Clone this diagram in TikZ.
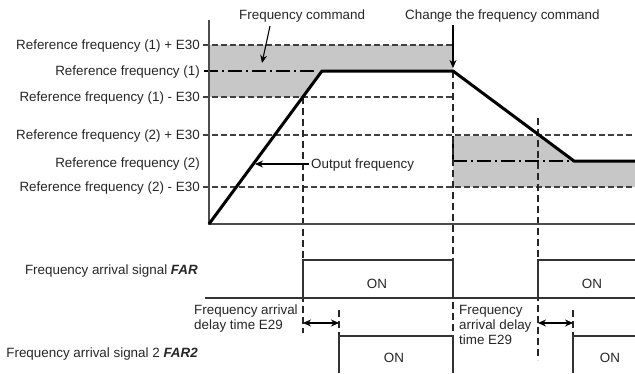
\documentclass[tikz,border=0pt]{standalone}
\usepackage{fontspec}
\setmainfont{Liberation Sans}
\usetikzlibrary{arrows.meta}
\begin{document}
\begin{tikzpicture}[x=1pt,y=-1pt, font=\fontsize{13.4}{15}\selectfont,
 lbl/.style={anchor=base east, inner sep=0pt, text=black!85},
 txt/.style={inner sep=0pt, text=black!85},
 dsh/.style={draw=black!75, line width=1.2pt, dash pattern=on 6pt off 3pt},
 vdsh/.style={draw=black!85, line width=1.2pt, dash pattern=on 7pt off 4pt},
 cmd/.style={draw=black, line width=1.9pt, dash pattern=on 14pt off 4pt on 2pt off 4pt},
 outf/.style={draw=black, line width=3pt, line join=miter},
 sig/.style={draw=black!80, line width=1.2pt},
 axisl/.style={draw=black!70, line width=1.4pt},
 band/.style={fill=black!22},
 ptr/.style={-{Stealth[length=8pt,width=7pt]}, draw=black, line width=1.1pt},
 dptr/.style={{Stealth[length=8pt,width=7pt]}-{Stealth[length=8pt,width=7pt]}, draw=black, line width=1.1pt}]
\useasboundingbox (0,0) rectangle (635,373);
% key points
\coordinate (O) at (209,224);
\coordinate (Ytop) at (209,20);
\coordinate (Xend) at (635,224);
\coordinate (R1) at (322,71);
\coordinate (C) at (453,71);
\coordinate (R2) at (574,161);
\coordinate (E) at (635,161);
% gray bands
\fill[band] (209,45) -- (453,45) -- (C) -- (R1) -- (302.8,97) -- (209,97) -- cycle;
\fill[band] (453,136) -- (539.5,136) -- (R2) -- (E) -- (635,187) -- (453,187) -- cycle;
% dashed levels
\coordinate (a1) at (203,45); \coordinate (b1) at (453,45);
\coordinate (a2) at (203,97); \coordinate (b2) at (453,97);
\coordinate (a3) at (203,135); \coordinate (b3) at (635,135);
\coordinate (a4) at (203,187); \coordinate (b4) at (635,187);
\draw[dsh] (a1) -- (b1);
\draw[dsh] (a2) -- (b2);
\draw[dsh] (a3) -- (b3);
\draw[dsh] (a4) -- (b4);
% command (dash-dot)
\coordinate (c1) at (204,71); \coordinate (c2) at (316,71);
\coordinate (c3) at (453,136); \coordinate (c4) at (453,161);
\draw[cmd] (c1) -- (c2);
\draw[draw=black, line width=1.9pt] (c3) -- (c4);
\draw[cmd] (c4) -- (R2);
% vertical dashed lines
\coordinate (v1t) at (303,97); \coordinate (v1b) at (303,333);
\coordinate (v2t) at (453,71); \coordinate (v2b) at (453,336);
\coordinate (v3t) at (538,118); \coordinate (v3b) at (538,360);
\coordinate (v4t) at (339,310); \coordinate (v4b) at (339,336);
\coordinate (v5t) at (573,310); \coordinate (v5b) at (573,336);
\draw[vdsh] (v1t) -- (v1b);
\draw[vdsh] (v2t) -- (v2b);
\draw[vdsh] (v3t) -- (v3b);
\draw[vdsh] (v4t) -- (v4b);
\draw[vdsh] (v5t) -- (v5b);
% axes
\draw[axisl] (Ytop) -- (O) -- (Xend);
% output frequency
\draw[outf] (O) -- (R1) -- (C) -- (R2) -- (E);
% top labels and pointers
\node[txt, anchor=base west] (fc) at (239,19.5) {Frequency command};
\node[txt, anchor=base west] (cc) at (405,19.5) {Change the frequency command};
\coordinate (fct) at (270,26); \coordinate (fch) at (262,63);
\draw[ptr] (fct) -- (fch);
\coordinate (cct) at (453,25); \coordinate (cch) at (453,68);
\draw[ptr] (cct) -- (cch);
% output frequency label
\node[txt, anchor=base west] (of) at (311,168.5) {Output frequency};
\coordinate (oft) at (309,164); \coordinate (ofh) at (255,164);
\draw[ptr] (oft) -- (ofh);
% left labels
\node[lbl] (l1) at (200,49.7) {Reference frequency (1) + E30};
\node[lbl] (l2) at (200,75.7) {Reference frequency (1)};
\node[lbl] (l3) at (200,101.7) {Reference frequency (1) - E30};
\node[lbl] (l4) at (200,139.7) {Reference frequency (2) + E30};
\node[lbl] (l5) at (200,167.7) {Reference frequency (2)};
\node[lbl] (l6) at (200,191.7) {Reference frequency (2) - E30};
% FAR signal
\coordinate (f0) at (205,298); \coordinate (f9) at (635,298);
\draw[sig] (f0) -- (f9);
\coordinate (f1) at (303,298); \coordinate (f2) at (303,260);
\coordinate (f3) at (453,260); \coordinate (f4) at (453,298);
\draw[sig] (f1) -- (f2) -- (f3) -- (f4);
\coordinate (f5) at (538,298); \coordinate (f6) at (538,260); \coordinate (f7) at (635,260);
\draw[sig] (f5) -- (f6) -- (f7);
\node[txt] (on1) at (377,284) {ON};
\node[txt] (on2) at (592,284) {ON};
% FAR2 signal
\coordinate (g1) at (339,373); \coordinate (g2) at (339,336);
\coordinate (g3) at (453,336); \coordinate (g4) at (453,373);
\draw[sig] (g1) -- (g2) -- (g3) -- (g4);
\coordinate (g5) at (573,373); \coordinate (g6) at (573,336); \coordinate (g7) at (635,336);
\draw[sig] (g5) -- (g6) -- (g7);
\node[txt] (on3) at (394,358) {ON};
\node[txt] (on4) at (610,358) {ON};
% delay arrows
\coordinate (d1) at (303,323); \coordinate (d2) at (339,323);
\coordinate (d3) at (538,323); \coordinate (d4) at (573,323);
\draw[dptr] (d1) -- (d2);
\draw[dptr] (d3) -- (d4);
% signal labels
\node[lbl] (far) at (198,274.7) {Frequency arrival signal \textbf{\textit{FAR}}};
\node[lbl] (far2) at (198,357.7) {Frequency arrival signal 2 \textbf{\textit{FAR2}}};
\node[txt, anchor=north west, align=left] (dl1) at (194,305) {Frequency arrival\\delay time E29};
\node[txt, anchor=north west, align=left] (dl2) at (459,305) {Frequency\\arrival delay\\time E29};
\end{tikzpicture}
\end{document}
